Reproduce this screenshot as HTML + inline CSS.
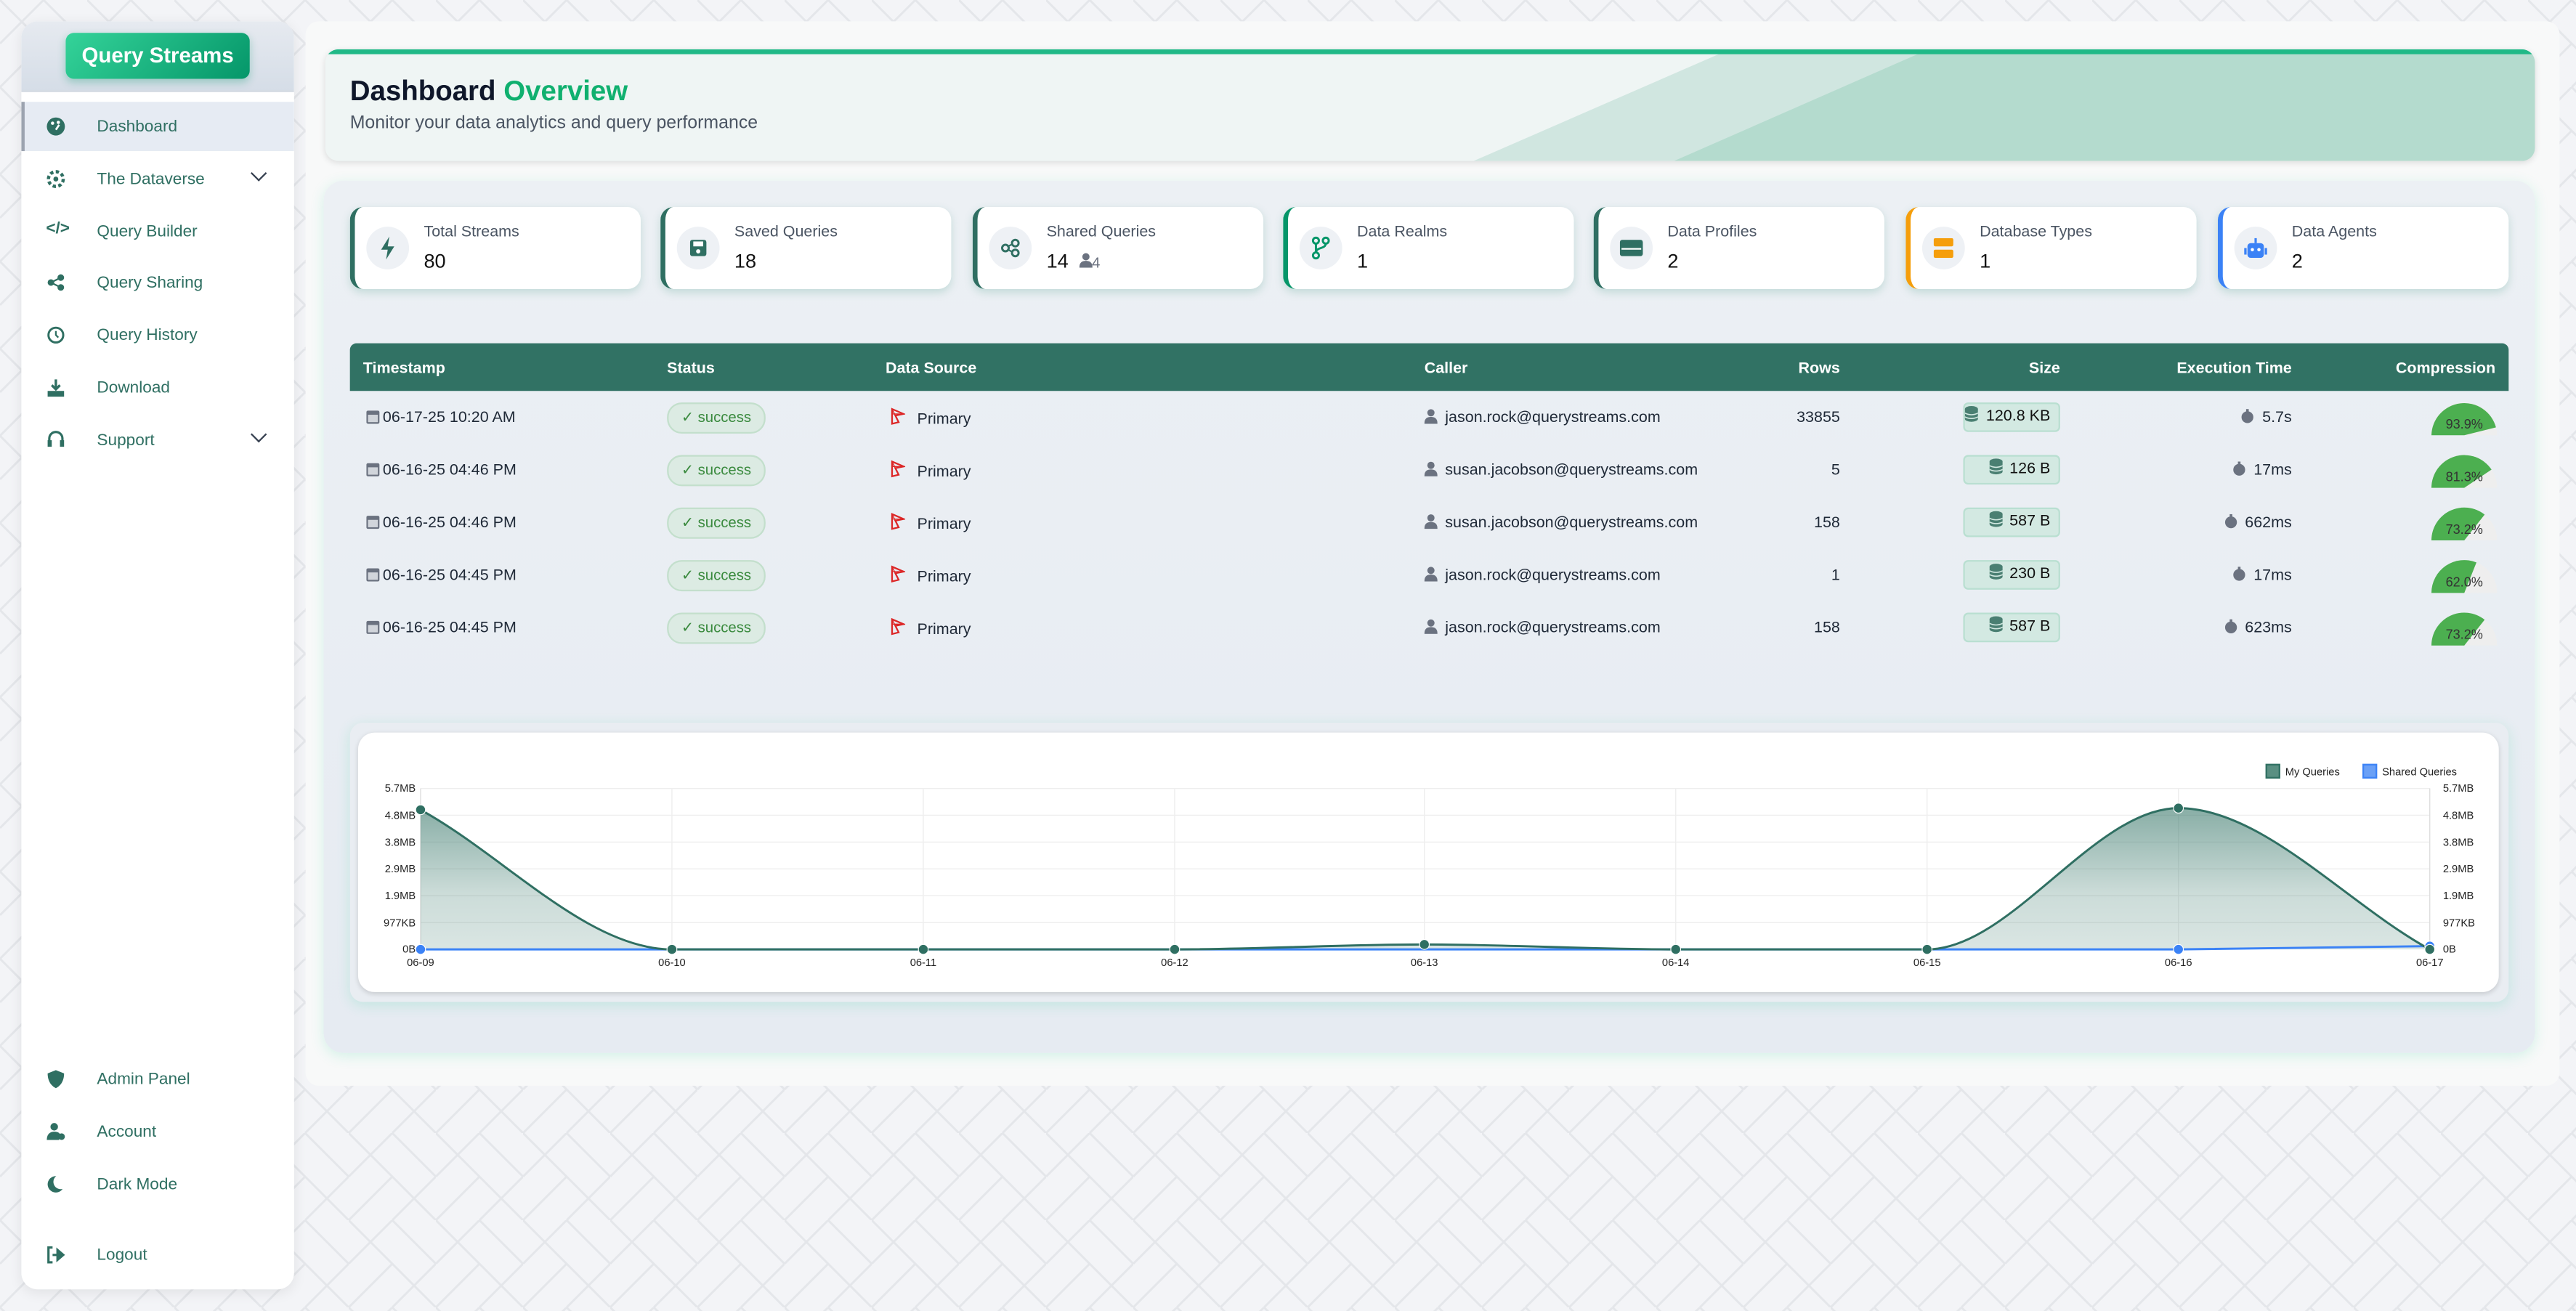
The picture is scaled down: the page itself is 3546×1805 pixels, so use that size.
<!DOCTYPE html>
<html><head><meta charset="utf-8">
<style>
*{box-sizing:border-box;margin:0;padding:0}
html,body{width:3546px;height:1805px;overflow:hidden;background:#f2f3f6}
.root{position:absolute;left:0;top:0;width:1568px;height:798px;transform:scale(2.26148);transform-origin:0 0;font-family:"Liberation Sans",sans-serif;color:#1f2937}
.abs{position:absolute}
.side{left:13px;top:13px;width:166px;height:772px;background:#fff;border-radius:10px;box-shadow:0 2px 8px rgba(0,0,0,.08);overflow:hidden}
.sidehead{left:0;top:0;width:166px;height:43px;background:linear-gradient(180deg,#e6eaf0,#d5dde7);border-bottom:1px solid #cfd6df}
.brand{left:27px;top:7px;width:112px;height:28px;border-radius:5px;background:linear-gradient(135deg,#34d399,#059669);color:#fff;font-weight:bold;font-size:13px;text-align:center;line-height:28px;box-shadow:0 2px 5px rgba(5,150,105,.3)}
.mi{position:absolute;left:0;width:166px;height:30px;color:#2f6f62;font-size:10px}
.mi .ic{position:absolute;left:15px;top:9px;width:12px;height:12px}
.mi .t{position:absolute;left:46px;top:10px}
.chev{position:absolute;left:141px;top:8px;width:7px;height:7px;border-right:1.5px solid #374151;border-bottom:1.5px solid #374151;transform:rotate(45deg)}
.main{left:186px;top:13px;width:1372px;height:648px;background:#f8f9f9;border-radius:8px}
.hcard{left:198px;top:30px;width:1345px;height:68px;border-radius:8px;overflow:hidden;background:#eff5f4;box-shadow:0 1px 4px rgba(0,0,0,.12)}
.panel{left:197px;top:110px;width:1346px;height:531px;border-radius:12px;background:linear-gradient(180deg,#ecf0f4,#e6ebf2);box-shadow:0 2px 8px rgba(52,211,153,.18)}
.card{position:absolute;top:126px;width:177px;height:50px;background:#fff;border-radius:8px;border-left:3px solid #2f6f62;box-shadow:0 2px 5px rgba(80,160,140,.25)}
.card .circ{position:absolute;left:7px;top:12px;width:26px;height:26px;border-radius:50%;background:#eef1f5}
.card .lb{position:absolute;left:42px;top:10px;font-size:9.5px;color:#4b5563}
.card .v{position:absolute;left:42px;top:26px;font-size:12px;color:#111}
.th{left:213px;top:209px;width:1314px;height:29px;background:#317264;border-radius:4px 4px 0 0;color:#fff;font-weight:bold;font-size:9.5px}
.th span{position:absolute;top:10px;white-space:nowrap}
.row > span{position:absolute;top:11px;white-space:nowrap}
.row{position:absolute;left:213px;width:1314px;height:32px;font-size:9.5px;color:#1f2937}
.row svg.i{display:inline-block;vertical-align:-1px;margin-right:2px}
.badge{position:absolute;left:193px;top:7px;width:60px;height:19px;border-radius:9px;background:#dcebe3;border:1px solid #c3dfcc;color:#3a8a3e;font-size:9px;text-align:center;line-height:17px}
.size{position:absolute;left:982px;top:7px;width:59px;height:18px;border-radius:3px;background:#d3e9e2;border:1px solid #b9dfd1;font-size:9.5px;text-align:right;padding-right:5px;line-height:16px;color:#111;white-space:nowrap}
.chart{left:218px;top:446px;width:1303px;height:158px;background:#fff;border-radius:10px;box-shadow:0 1px 3px rgba(0,0,0,.15)}
.chartwrap{left:213px;top:440px;width:1314px;height:170px;border-radius:8px;background:#e9edf2;box-shadow:0 2px 8px rgba(52,211,153,.2)}
</style></head><body>
<svg class="abs" style="left:0;top:0" width="3546" height="1805">
<defs><pattern id="hb" width="120" height="120" patternUnits="userSpaceOnUse">
<path d="M0 60 L60 0 M60 120 L120 60 M0 0 L60 60 L0 120 M60 0 L120 60 M60 60 L120 120" stroke="#e4e6ea" stroke-width="3" fill="none"/></pattern>
<symbol id="cal" viewBox="0 0 8 9"><rect y="1" width="8" height="8" rx="1" fill="#6b7280"/><rect x="1" y="3.5" width="6" height="4.5" fill="#d1d5db"/></symbol>
<symbol id="usr" viewBox="0 0 8 9"><circle cx="4" cy="2.3" r="2.2" fill="#6b7280"/><path d="M0 9C0 5.5 2 4.8 4 4.8S8 5.5 8 9Z" fill="#6b7280"/></symbol>
<symbol id="tmr" viewBox="0 0 8 9"><circle cx="4" cy="5" r="3.6" fill="#6b7280"/><rect x="3.2" y="0" width="1.6" height="1.5" fill="#6b7280"/></symbol>
<symbol id="src" viewBox="0 0 10 11"><path d="M2 1L9 4 4 5 6 9 2 10Z" fill="none" stroke="#dc2626" stroke-width="1"/><path d="M2 1L4 5M2 4L8 4" stroke="#dc2626" stroke-width=".6"/></symbol>
<symbol id="db" viewBox="0 0 8 10"><ellipse cx="4" cy="2" rx="4" ry="1.8" fill="#4a7f72"/><rect y="2" width="8" height="6" fill="#4a7f72"/><ellipse cx="4" cy="8" rx="4" ry="1.8" fill="#4a7f72"/><path d="M0 4.5Q4 6.5 8 4.5M0 6.8Q4 8.8 8 6.8" stroke="#d3e9e2" stroke-width=".7" fill="none"/></symbol>
</defs>
<rect width="3546" height="1805" fill="#f3f4f7"/><rect width="3546" height="1805" fill="url(#hb)"/>
</svg>
<div class="root">
<div class="abs side">
 <div class="abs sidehead"><div class="abs brand">Query Streams</div></div>
 <div class="mi" style="top:49px;background:#e6ebf3;border-left:2px solid #9ca3af"><svg class="ic" style="left:13px" viewBox="0 0 12 12"><circle cx="6" cy="6" r="5.5" fill="#2f6f62"/><circle cx="4" cy="4" r="1" fill="#fff"/><circle cx="7.5" cy="3.5" r="1" fill="#fff"/><path d="M6 8L8 5" stroke="#fff" stroke-width="1.2"/></svg><span class="t" style="left:44px">Dashboard</span></div>
 <div class="mi" style="top:81px"><svg class="ic" viewBox="0 0 12 12"><circle cx="6" cy="6" r="4.5" fill="none" stroke="#2f6f62" stroke-width="2" stroke-dasharray="2 1.5"/><circle cx="6" cy="6" r="1.5" fill="#2f6f62"/></svg><span class="t">The Dataverse</span><div class="chev"></div></div>
 <div class="mi" style="top:113px"><span class="ic" style="font-size:10px;top:8px;font-weight:bold">&lt;/&gt;</span><span class="t">Query Builder</span></div>
 <div class="mi" style="top:144px"><svg class="ic" viewBox="0 0 12 12"><circle cx="3" cy="6" r="2" fill="#2f6f62"/><circle cx="9" cy="3" r="2" fill="#2f6f62"/><circle cx="9" cy="9" r="2" fill="#2f6f62"/><path d="M3 6L9 3M3 6L9 9" stroke="#2f6f62"/></svg><span class="t">Query Sharing</span></div>
 <div class="mi" style="top:176px"><svg class="ic" viewBox="0 0 12 12"><circle cx="6" cy="6" r="4.5" fill="none" stroke="#2f6f62" stroke-width="1.3"/><path d="M6 3.5V6L7.5 7.5" stroke="#2f6f62" fill="none"/></svg><span class="t">Query History</span></div>
 <div class="mi" style="top:208px"><svg class="ic" viewBox="0 0 12 12"><path d="M6 1V7M3.5 4.5L6 7L8.5 4.5" stroke="#2f6f62" stroke-width="1.5" fill="none"/><rect x="1" y="8" width="10" height="3.5" fill="#2f6f62"/></svg><span class="t">Download</span></div>
 <div class="mi" style="top:240px"><svg class="ic" viewBox="0 0 12 12"><path d="M2 7V5a4 4 0 018 0v2" stroke="#2f6f62" stroke-width="1.4" fill="none"/><rect x="1" y="6" width="2.5" height="4" fill="#2f6f62"/><rect x="8.5" y="6" width="2.5" height="4" fill="#2f6f62"/></svg><span class="t">Support</span><div class="chev"></div></div>
 <div class="mi" style="top:629px"><svg class="ic" viewBox="0 0 12 12"><path d="M6 .5L11 2.5C11 7 9 10 6 11.5 3 10 1 7 1 2.5Z" fill="#2f6f62"/></svg><span class="t">Admin Panel</span></div>
 <div class="mi" style="top:661px"><svg class="ic" viewBox="0 0 12 12"><circle cx="5" cy="3" r="2.3" fill="#2f6f62"/><path d="M0.5 11C0.5 7 3 6 5 6s3 .5 3.5 1.5L8 11Z" fill="#2f6f62"/><circle cx="9.5" cy="9" r="2" fill="#2f6f62"/></svg><span class="t">Account</span></div>
 <div class="mi" style="top:693px"><svg class="ic" viewBox="0 0 12 12"><circle cx="6" cy="6" r="5" fill="#2f6f62"/><circle cx="9" cy="4.5" r="4.5" fill="#fff"/></svg><span class="t">Dark Mode</span></div>
 <div class="mi" style="top:736px"><svg class="ic" viewBox="0 0 12 12"><path d="M4 1.5H1.5V10.5H4" stroke="#2f6f62" stroke-width="1.4" fill="none"/><path d="M4 6H8M7 3L10.5 6 7 9Z" stroke="#2f6f62" stroke-width="1.4" fill="#2f6f62"/></svg><span class="t">Logout</span></div>
</div>

<div class="abs main"></div>
<div class="abs hcard">
 <svg class="abs" style="left:0;top:0" width="1345" height="68"><polygon points="699,68 855,0 1345,0 1345,68" fill="#d0e6e0"/><polygon points="821,68 976,0 1345,0 1345,68" fill="#b4dbce"/><rect width="1345" height="3" fill="#20b987"/></svg>
 <div class="abs" style="left:15px;top:16px;font-size:17px;font-weight:bold;color:#0f172a">Dashboard <span style="color:#10b06f">Overview</span></div>
 <div class="abs" style="left:15px;top:39px;font-size:11px;color:#4b5563">Monitor your data analytics and query performance</div>
</div>
<div class="abs panel"></div>

<div class="card" style="left:213px"><div class="circ"><svg style="position:absolute;left:8px;top:6px" width="10" height="14" viewBox="0 0 10 14"><path d="M6 0L1 8H5L4 14 9 6H5Z" fill="#2f6f62"/></svg></div><div class="lb">Total Streams</div><div class="v">80</div></div>
<div class="card" style="left:402px"><div class="circ"><svg style="position:absolute;left:8px;top:8px" width="10" height="10"><rect width="10" height="10" rx="1.5" fill="#2f6f62"/><rect x="2" y="1" width="6" height="3" fill="#fff"/><circle cx="5" cy="7" r="1.3" fill="#fff"/></svg></div><div class="lb">Saved Queries</div><div class="v">18</div></div>
<div class="card" style="left:592px"><div class="circ"><svg style="position:absolute;left:7px;top:7px" width="12" height="12" viewBox="0 0 12 12"><circle cx="3" cy="6" r="2" fill="none" stroke="#2f6f62" stroke-width="1.3"/><circle cx="9" cy="3" r="2" fill="none" stroke="#2f6f62" stroke-width="1.3"/><circle cx="9" cy="9" r="2" fill="none" stroke="#2f6f62" stroke-width="1.3"/><path d="M4.5 5L7.5 3.5M4.5 7L7.5 8.5" stroke="#2f6f62"/></svg></div><div class="lb">Shared Queries</div><div class="v">14 <svg width="8" height="9" style="margin-left:3px"><use href="#usr"/></svg><span style="font-size:9px;color:#6b7280">4</span></div></div>
<div class="card" style="left:781px;border-left-color:#059669"><div class="circ"><svg style="position:absolute;left:7px;top:6px" width="12" height="14" viewBox="0 0 12 14"><circle cx="3" cy="2.5" r="1.8" fill="none" stroke="#059669" stroke-width="1.3"/><circle cx="9" cy="2.5" r="1.8" fill="none" stroke="#059669" stroke-width="1.3"/><circle cx="3" cy="11.5" r="1.8" fill="none" stroke="#059669" stroke-width="1.3"/><path d="M3 4V10M9 4C9 8 3 6 3 10" stroke="#059669" stroke-width="1.3" fill="none"/></svg></div><div class="lb">Data Realms</div><div class="v">1</div></div>
<div class="card" style="left:970px"><div class="circ"><svg style="position:absolute;left:6px;top:8px" width="14" height="10"><rect width="14" height="10" rx="1.5" fill="#2f6f62"/><rect x="1" y="5" width="12" height="1" fill="#fff"/></svg></div><div class="lb">Data Profiles</div><div class="v">2</div></div>
<div class="card" style="left:1160px;border-left-color:#f59e0b"><div class="circ"><svg style="position:absolute;left:7px;top:7px" width="12" height="12"><rect width="12" height="5" rx="1" fill="#f59e0b"/><rect y="7" width="12" height="5" rx="1" fill="#f59e0b"/></svg></div><div class="lb">Database Types</div><div class="v">1</div></div>
<div class="card" style="left:1350px;border-left-color:#3b82f6"><div class="circ"><svg style="position:absolute;left:6px;top:6px" width="14" height="14" viewBox="0 0 14 14"><rect x="2" y="4" width="10" height="9" rx="2" fill="#3b82f6"/><rect x="6.3" y="1" width="1.4" height="3" fill="#3b82f6"/><rect x="0" y="7" width="1.5" height="4" fill="#3b82f6"/><rect x="12.5" y="7" width="1.5" height="4" fill="#3b82f6"/><circle cx="5" cy="8" r="1" fill="#fff"/><circle cx="9" cy="8" r="1" fill="#fff"/></svg></div><div class="lb">Data Agents</div><div class="v">2</div></div>

<div class="abs th"><span style="left:8px">Timestamp</span><span style="left:193px">Status</span><span style="left:326px">Data Source</span><span style="left:654px">Caller</span><span style="right:407px">Rows</span><span style="right:273px">Size</span><span style="right:132px">Execution Time</span><span style="right:8px">Compression</span></div>

<div class="row" style="top:238px"><span style="left:10px"><svg class="i" width="8" height="9"><use href="#cal"/></svg>06-17-25 10:20 AM</span><div class="badge">✓ success</div><span style="left:328px;top:10px"><svg class="i" width="10" height="11"><use href="#src"/></svg>&nbsp; Primary</span><span style="left:654px"><svg class="i" width="8" height="9"><use href="#usr"/></svg> jason.rock@querystreams.com</span><span style="right:407px">33855</span><div class="size"><svg class="i" width="8" height="10"><use href="#db"/></svg> 120.8 KB</div><span style="right:132px"><svg class="i" width="8" height="9"><use href="#tmr"/></svg> 5.7s</span>
<svg style="position:absolute;left:1266px;top:6px" width="42" height="22" viewBox="0 0 42 22"><path d="M1 21A20 20 0 0 1 41 21Z" fill="#eee"/><path d="M1 21A20 20 0 0 1 40.3 16.2L21 21Z" fill="#4caf50"/><text x="21" y="17" font-size="8" text-anchor="middle" fill="#333" font-family="Liberation Sans">93.9%</text></svg></div>

<div class="row" style="top:270px"><span style="left:10px"><svg class="i" width="8" height="9"><use href="#cal"/></svg>06-16-25 04:46 PM</span><div class="badge">✓ success</div><span style="left:328px;top:10px"><svg class="i" width="10" height="11"><use href="#src"/></svg>&nbsp; Primary</span><span style="left:654px"><svg class="i" width="8" height="9"><use href="#usr"/></svg> susan.jacobson@querystreams.com</span><span style="right:407px">5</span><div class="size"><svg class="i" width="8" height="10"><use href="#db"/></svg> 126 B</div><span style="right:132px"><svg class="i" width="8" height="9"><use href="#tmr"/></svg> 17ms</span>
<svg style="position:absolute;left:1266px;top:6px" width="42" height="22" viewBox="0 0 42 22"><path d="M1 21A20 20 0 0 1 41 21Z" fill="#eee"/><path d="M1 21A20 20 0 0 1 37.6 9.9L21 21Z" fill="#4caf50"/><text x="21" y="17" font-size="8" text-anchor="middle" fill="#333" font-family="Liberation Sans">81.3%</text></svg></div>

<div class="row" style="top:302px"><span style="left:10px"><svg class="i" width="8" height="9"><use href="#cal"/></svg>06-16-25 04:46 PM</span><div class="badge">✓ success</div><span style="left:328px;top:10px"><svg class="i" width="10" height="11"><use href="#src"/></svg>&nbsp; Primary</span><span style="left:654px"><svg class="i" width="8" height="9"><use href="#usr"/></svg> susan.jacobson@querystreams.com</span><span style="right:407px">158</span><div class="size"><svg class="i" width="8" height="10"><use href="#db"/></svg> 587 B</div><span style="right:132px"><svg class="i" width="8" height="9"><use href="#tmr"/></svg> 662ms</span>
<svg style="position:absolute;left:1266px;top:6px" width="42" height="22" viewBox="0 0 42 22"><path d="M1 21A20 20 0 0 1 41 21Z" fill="#eee"/><path d="M1 21A20 20 0 0 1 33.4 5.3L21 21Z" fill="#4caf50"/><text x="21" y="17" font-size="8" text-anchor="middle" fill="#333" font-family="Liberation Sans">73.2%</text></svg></div>

<div class="row" style="top:334px"><span style="left:10px"><svg class="i" width="8" height="9"><use href="#cal"/></svg>06-16-25 04:45 PM</span><div class="badge">✓ success</div><span style="left:328px;top:10px"><svg class="i" width="10" height="11"><use href="#src"/></svg>&nbsp; Primary</span><span style="left:654px"><svg class="i" width="8" height="9"><use href="#usr"/></svg> jason.rock@querystreams.com</span><span style="right:407px">1</span><div class="size"><svg class="i" width="8" height="10"><use href="#db"/></svg> 230 B</div><span style="right:132px"><svg class="i" width="8" height="9"><use href="#tmr"/></svg> 17ms</span>
<svg style="position:absolute;left:1266px;top:6px" width="42" height="22" viewBox="0 0 42 22"><path d="M1 21A20 20 0 0 1 41 21Z" fill="#eee"/><path d="M1 21A20 20 0 0 1 28.4 2.4L21 21Z" fill="#4caf50"/><text x="21" y="17" font-size="8" text-anchor="middle" fill="#333" font-family="Liberation Sans">62.0%</text></svg></div>

<div class="row" style="top:366px"><span style="left:10px"><svg class="i" width="8" height="9"><use href="#cal"/></svg>06-16-25 04:45 PM</span><div class="badge">✓ success</div><span style="left:328px;top:10px"><svg class="i" width="10" height="11"><use href="#src"/></svg>&nbsp; Primary</span><span style="left:654px"><svg class="i" width="8" height="9"><use href="#usr"/></svg> jason.rock@querystreams.com</span><span style="right:407px">158</span><div class="size"><svg class="i" width="8" height="10"><use href="#db"/></svg> 587 B</div><span style="right:132px"><svg class="i" width="8" height="9"><use href="#tmr"/></svg> 623ms</span>
<svg style="position:absolute;left:1266px;top:6px" width="42" height="22" viewBox="0 0 42 22"><path d="M1 21A20 20 0 0 1 41 21Z" fill="#eee"/><path d="M1 21A20 20 0 0 1 33.4 5.3L21 21Z" fill="#4caf50"/><text x="21" y="17" font-size="8" text-anchor="middle" fill="#333" font-family="Liberation Sans">73.2%</text></svg></div>

<div class="abs chartwrap"></div>
<div class="abs chart"></div>
<svg class="abs" style="left:0;top:0" width="1568" height="798" font-family="Liberation Sans" font-size="6.5">
<defs><linearGradient id="fg" gradientUnits="userSpaceOnUse" x1="0" y1="480" x2="0" y2="578"><stop offset="0" stop-color="#317264" stop-opacity=".65"/><stop offset=".65" stop-color="#317264" stop-opacity=".25"/><stop offset="1" stop-color="#317264" stop-opacity=".18"/></linearGradient></defs>
<g stroke="#eeeeee" stroke-width=".6">
<line x1="256" y1="480" x2="1479" y2="480"/><line x1="256" y1="496.3" x2="1479" y2="496.3"/><line x1="256" y1="512.7" x2="1479" y2="512.7"/><line x1="256" y1="529" x2="1479" y2="529"/><line x1="256" y1="545.3" x2="1479" y2="545.3"/><line x1="256" y1="561.7" x2="1479" y2="561.7"/>
<line x1="409" y1="480" x2="409" y2="578"/><line x1="562" y1="480" x2="562" y2="578"/><line x1="715" y1="480" x2="715" y2="578"/><line x1="867" y1="480" x2="867" y2="578"/><line x1="1020" y1="480" x2="1020" y2="578"/><line x1="1173" y1="480" x2="1173" y2="578"/><line x1="1326" y1="480" x2="1326" y2="578"/>
</g>
<line x1="256" y1="480" x2="256" y2="578" stroke="#ddd" stroke-width=".6"/><line x1="1479" y1="480" x2="1479" y2="578" stroke="#ddd" stroke-width=".6"/>
<path d="M256,493 C307,521 358,578 409,578 L715,578 C766,578 816,575 867,575 C918,575 969,578 1020,578 L1173,578 C1224,578 1275,492 1326,492 C1377,492 1428,550 1479,578 L256,578 Z" fill="url(#fg)"/>
<path d="M256,578 L1326,578 L1479,576" stroke="#3b82f6" stroke-width="1.3" fill="none"/>
<path d="M256,493 C307,521 358,578 409,578 L715,578 C766,578 816,575 867,575 C918,575 969,578 1020,578 L1173,578 C1224,578 1275,492 1326,492 C1377,492 1428,550 1479,578" stroke="#2f6f62" stroke-width="1.3" fill="none"/>
<g fill="#3b82f6" stroke="#fff" stroke-width=".5"><circle cx="256" cy="578" r="3"/><circle cx="1326" cy="578" r="3"/><circle cx="1479" cy="576" r="3"/></g>
<g fill="#2f6f62" stroke="#fff" stroke-width=".5"><circle cx="256" cy="493" r="3"/><circle cx="409" cy="578" r="3"/><circle cx="562" cy="578" r="3"/><circle cx="715" cy="578" r="3"/><circle cx="867" cy="575" r="3"/><circle cx="1020" cy="578" r="3"/><circle cx="1173" cy="578" r="3"/><circle cx="1326" cy="492" r="3"/><circle cx="1479" cy="578" r="3"/></g>
<g fill="#222" text-anchor="end"><text x="253" y="482">5.7MB</text><text x="253" y="498.5">4.8MB</text><text x="253" y="515">3.8MB</text><text x="253" y="531">2.9MB</text><text x="253" y="547.5">1.9MB</text><text x="253" y="564">977KB</text><text x="253" y="580">0B</text></g>
<g fill="#222"><text x="1487" y="482">5.7MB</text><text x="1487" y="498.5">4.8MB</text><text x="1487" y="515">3.8MB</text><text x="1487" y="531">2.9MB</text><text x="1487" y="547.5">1.9MB</text><text x="1487" y="564">977KB</text><text x="1487" y="580">0B</text></g>
<g fill="#222" text-anchor="middle"><text x="256" y="588">06-09</text><text x="409" y="588">06-10</text><text x="562" y="588">06-11</text><text x="715" y="588">06-12</text><text x="867" y="588">06-13</text><text x="1020" y="588">06-14</text><text x="1173" y="588">06-15</text><text x="1326" y="588">06-16</text><text x="1479" y="588">06-17</text></g>
<rect x="1379.5" y="465.5" width="8" height="8" fill="#5a8f82" stroke="#2f6f62"/><text x="1391" y="472" fill="#222">My Queries</text>
<rect x="1438.5" y="465.5" width="8" height="8" fill="#6aa0f6" stroke="#3b82f6"/><text x="1450" y="472" fill="#222">Shared Queries</text>
</svg>
</div>
</body></html>
